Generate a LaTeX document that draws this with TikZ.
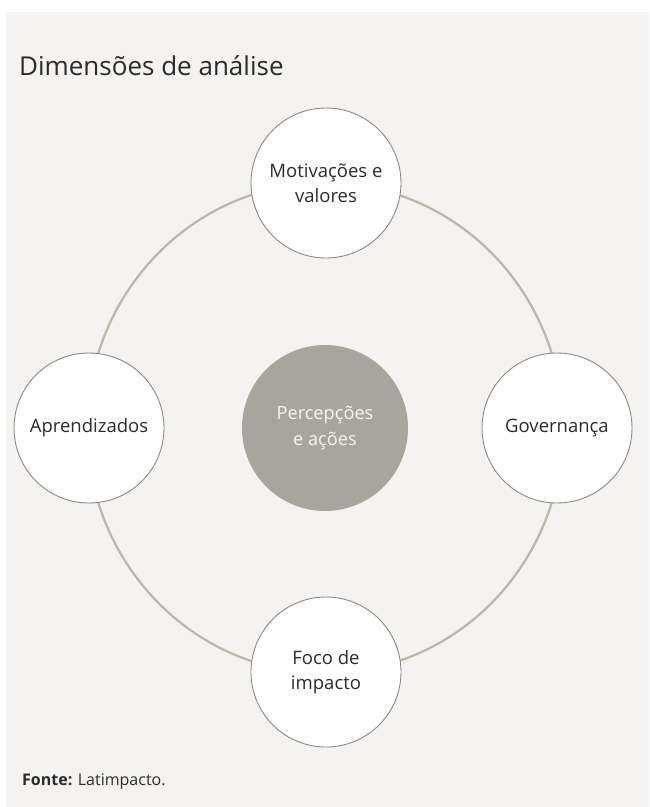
\documentclass[tikz,border=0pt]{standalone}
\usepackage{fontspec}
\setmainfont{Open Sans}
\definecolor{bgpanel}{HTML}{F4F3F1}
\definecolor{ringline}{HTML}{BAB6AA}
\definecolor{nodeline}{HTML}{8C8A83}
\definecolor{centrefill}{HTML}{A7A59E}
\definecolor{textdark}{HTML}{2B2B2B}
\begin{document}
\begin{tikzpicture}[x=1pt, y=-1pt,
  main/.style = {draw=nodeline, line width=0.9pt, circle, fill=white, minimum size=150pt, inner sep=0pt, align=center, text=textdark, font=\fontsize{18.5}{25}\selectfont},
  centre/.style = {circle, fill=centrefill, minimum size=166pt, inner sep=0pt, align=center, text=white!90!centrefill, font=\fontsize{18.2}{26}\selectfont},
  ring/.style = {draw=ringline, line width=2.2pt}]
\useasboundingbox (0,0) rectangle (649,807);
\fill[bgpanel] (6,12) rectangle (649,807);
\node[anchor=base west, text=textdark, font=\fontsize{26}{32}\selectfont, inner sep=0pt] (title) at (19,75) {Dimensões de análise};
\coordinate (c) at (325,428);
\draw[ring] (c) circle [x radius=238pt, y radius=245pt];
\node[main] (mot) at (326,183) {Motivações e\\valores};
\node[main] (gov) at (557,428) {Governança};
\node[main] (foc) at (326,672) {Foco de\\impacto};
\node[main] (apr) at (89,428) {Aprendizados};
\node[centre] (per) at (c) {Percepções\\e ações};
\node[anchor=base west, inner sep=0pt, text=textdark, font=\fontsize{16}{19}\selectfont] (fonte) at (22,785) {\textbf{Fonte:} Latimpacto.};
\end{tikzpicture}
\end{document}
